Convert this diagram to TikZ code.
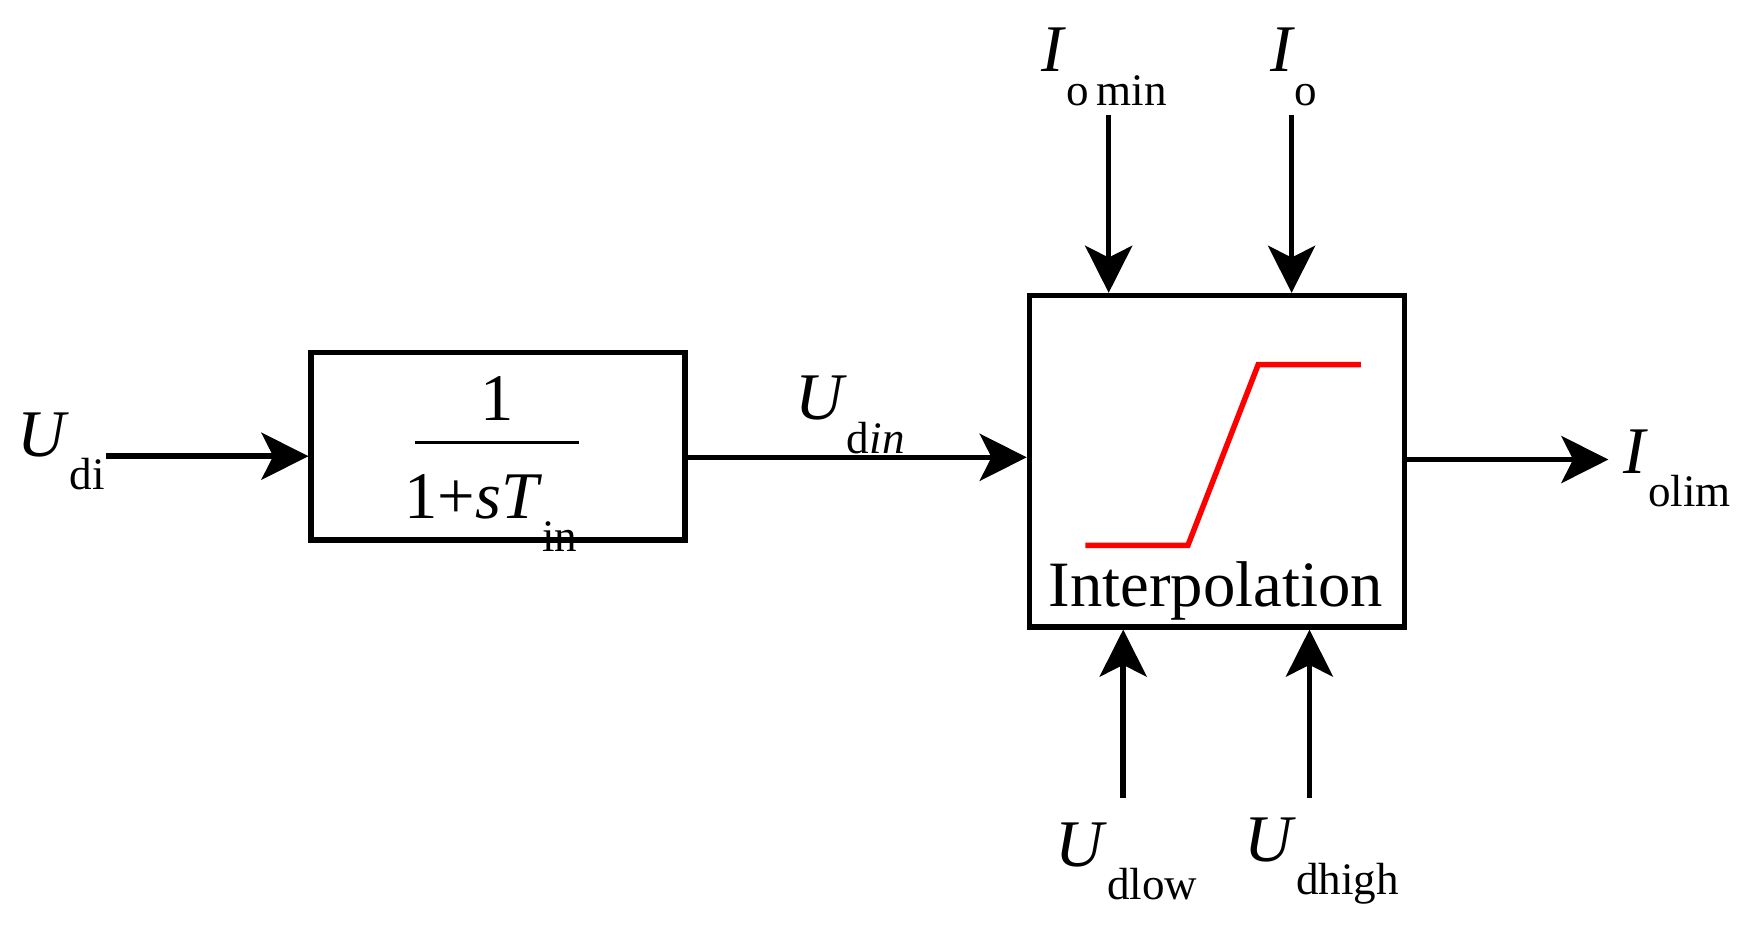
\documentclass[tikz,border=0pt]{standalone}
\usepackage{fontspec}
\setmainfont{Liberation Serif}
\usetikzlibrary{arrows.meta}
\newcommand{\lb}[2]{\fontsize{34}{38}\selectfont\textit{#1}\raisebox{-0.5em}{\fontsize{23}{26}\selectfont #2}}
\begin{document}
\begin{tikzpicture}[x=0.02cm,y=-0.02cm,
  wire/.style={line width=2.8pt,-{Stealth[length=24pt,width=24pt,inset=6pt]}},
  blk/.style={draw,line width=2.8pt,inner sep=0pt}]
\useasboundingbox (0,0) rectangle (1560,842);
\node[blk,minimum width=335*0.02cm,minimum height=168*0.02cm] (b1) at (446.5,400) {};
\node[blk,minimum width=336*0.02cm,minimum height=297*0.02cm] (b2) at (1091,413.5) {};
\node (one) at (446,357) {\fontsize{34}{38}\selectfont 1};
\draw[line width=1.4pt] (372,397) -- (519,397);
\node (den) at (440,460) {\fontsize{34}{38}\selectfont 1+\textit{sT}\raisebox{-0.5em}{\fontsize{23}{26}\selectfont in}};
\draw[red,line width=2.8pt] (973,489) -- (1065,489) -- (1128,327) -- (1220,327);
\node (interp) at (1090,530) {\fontsize{33}{38}\selectfont Interpolation};
\node (udi) at (55,405) {\lb{U}{di}};
\coordinate (a) at (95,409);
\draw[wire] (a) -- (b1.west |- a);
\coordinate (c) at (614,410);
\draw[wire] (c) -- (b2.west |- c);
\node (udin) at (762,372) {\lb{U}{d\textit{in}}};
\coordinate (d) at (1259,412);
\coordinate (e) at (1442,412);
\draw[wire] (d) -- (e);
\node[anchor=west,inner sep=0pt] (iolim) at (1455,420) {\lb{I}{olim}};
\coordinate (t1) at (994,103);
\coordinate (t2) at (1158,103);
\draw[wire] (t1) -- (t1 |- b2.north);
\draw[wire] (t2) -- (t2 |- b2.north);
\node (iomin) at (990,60) {\lb{I}{o\,min}};
\node (io) at (1160,60) {\lb{I}{o}};
\coordinate (u1) at (1007,715);
\coordinate (u2) at (1174,715);
\draw[wire] (u1) -- (u1 |- b2.south);
\draw[wire] (u2) -- (u2 |- b2.south);
\node (udlow) at (1010,772) {\lb{U}{dlow}};
\node (udhigh) at (1185,772) {\lb{U}{dhigh}};
\end{tikzpicture}
\end{document}
